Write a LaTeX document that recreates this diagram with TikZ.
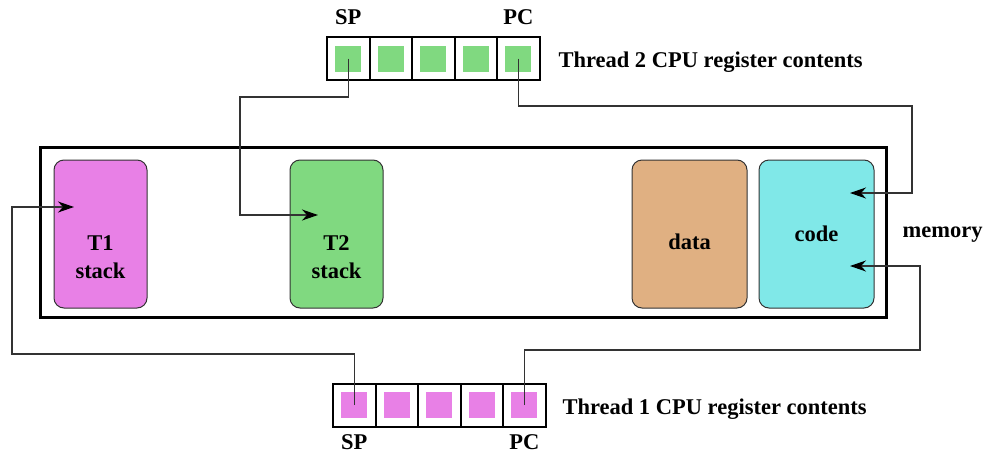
\documentclass[tikz,border=0pt]{standalone}
\usepackage{fontspec}
\setmainfont{Liberation Serif}
\usepackage{xcolor}
\definecolor{mypink}{RGB}{232,128,230}
\definecolor{mygreen}{RGB}{128,217,128}
\definecolor{mytan}{RGB}{224,176,130}
\definecolor{mycyan}{RGB}{128,232,232}
\usepackage{tikz}
\usetikzlibrary{calc}
\usetikzlibrary{arrows.meta}
\tikzset{
    memory/.style={draw, rectangle, line width=3pt, minimum width=846pt, minimum height=170pt},
    segment/.style={draw=black!80, rectangle, line width=1pt, rounded corners=10pt, minimum width=93pt, minimum height=148pt},
    reg/.style={
        draw, rectangle, line width=2pt, minimum width=42.5pt, minimum height=43pt, inner sep=0pt,
        path picture={
            \fill[#1]
                ($(path picture bounding box.center)+(-13pt,-13pt)$) rectangle
                ($(path picture bounding box.center)+(13pt,13pt)$);
        }
    },
    link/.style={draw=black!80, line width=1.3pt, -{Stealth[length=16pt, width=11pt, inset=5pt, black]}}
}

\begin{document}
\begin{tikzpicture}[x=1pt, y=-1pt, font=\fontsize{22.5}{28}\selectfont\bfseries]
      \useasboundingbox (0,0) rectangle (987,458);

      \node[memory] (mem) at (463,232) {};
      \node[anchor=base west] (mem-label) at (899,237) {memory};

      \path
          (100.5,234) node[segment, fill=mypink, label={[yshift=-23pt, align=center]center:{T1\\stack}}] (t1-stack) {}
          (336.5,234) node[segment, fill=mygreen, label={[yshift=-23pt, align=center]center:{T2\\stack}}] (t2-stack) {}
          (689.5,234) node[segment, fill=mytan, minimum width=115pt, label={[yshift=-8pt]center:{data}}] (data) {}
          (816.5,234) node[segment, fill=mycyan, minimum width=115pt, label=center:{code}] (code) {};

      \path
          (348.25,58.5) node[reg=mygreen, label={[label distance=8pt]above:{SP}}] (t2-sp) {}
          +(42.5,0) node[reg=mygreen] (t2-r2) {}
          +(85,0) node[reg=mygreen] (t2-r3) {}
          +(127.5,0) node[reg=mygreen] (t2-r4) {}
          +(170,0) node[reg=mygreen, label={[label distance=8pt]above:{PC}}] (t2-pc) {};
      \node[anchor=base west] (t2-label) at (555,67) {Thread 2 CPU register contents};

      \path
          (354.25,405) node[reg=mypink, label={[label distance=4pt]below:{SP}}] (t1-sp) {}
          +(42.5,0) node[reg=mypink] (t1-r2) {}
          +(85,0) node[reg=mypink] (t1-r3) {}
          +(127.5,0) node[reg=mypink] (t1-r4) {}
          +(170,0) node[reg=mypink, label={[label distance=4pt]below:{PC}}] (t1-pc) {};
      \node[anchor=base west] (t1-label) at (559,414) {Thread 1 CPU register contents};

      \coordinate (t2-sp-tip) at (318,215);
      \coordinate (t2-pc-tip) at (850,193);
      \coordinate (t1-sp-tip) at (74,207);
      \coordinate (t1-pc-tip) at (850,266);

      \draw[link] (t2-sp.center) |- (240,97) |- (t2-sp-tip);
      \draw[link] (t2-pc.center) |- (912,106) |- (t2-pc-tip);
      \draw[link] (t1-sp.center) |- (12,354) |- (t1-sp-tip);
      \draw[link] (t1-pc.center) |- (920,350) |- (t1-pc-tip);
\end{tikzpicture}
\end{document}
